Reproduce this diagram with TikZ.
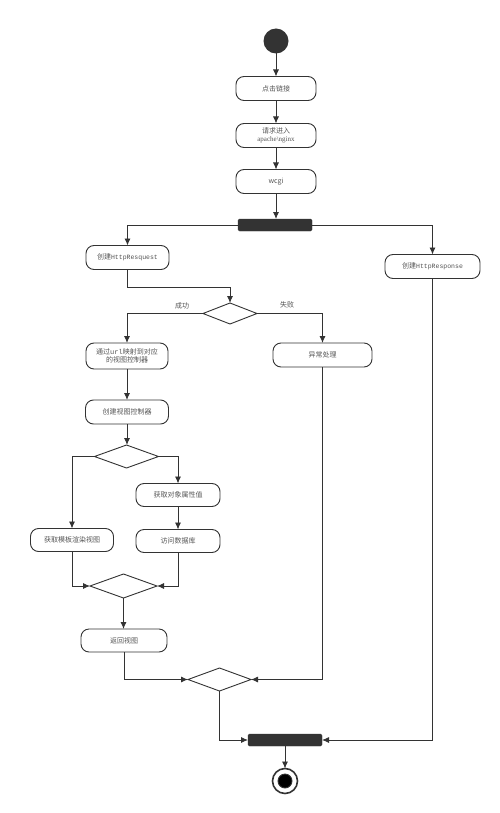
\documentclass[tikz,border=0pt]{standalone}
\usepackage{fontspec}
\newfontfamily\cjk{Noto Sans CJK SC}
\newfontfamily\mono{Liberation Mono}
\newfontfamily\serifl{Liberation Serif}
\usetikzlibrary{arrows.meta,shapes.geometric}
\definecolor{ln}{HTML}{333333}
\definecolor{tx}{HTML}{555555}
\begin{document}
\begin{tikzpicture}[x=1pt,y=-1pt,
  every node/.style={inner sep=0pt, outer sep=0pt},
  act/.style={draw=ln, line width=0.9pt, fill=white, rounded corners=8pt, minimum height=24pt,
    text=tx, align=center, font=\cjk\fontsize{7}{9}\selectfont},
  bar/.style={fill=ln, draw=ln, rounded corners=1.5pt, minimum width=74pt, minimum height=12pt},
  dec/.style={diamond, draw=ln, line width=0.9pt, fill=white},
  lbl/.style={text=tx, font=\cjk\fontsize{7}{9}\selectfont},
  arr/.style={draw=ln, line width=0.9pt, -{Latex[length=7pt,width=6pt]}},
  ln/.style={draw=ln, line width=0.9pt}]
\useasboundingbox (0,0) rectangle (500,813);
\fill[white] (0,0) rectangle (500,813);

\node[circle, fill=ln, minimum size=25pt] (start) at (276,41) {};
\node[act, minimum width=80pt] (n1) at (276,88.5) {点击链接};
\node[act, minimum width=80pt] (n2) at (276,135.5) {请求进入\\[-1pt]{\serifl apache\textbackslash nginx}};
\node[act, minimum width=80pt] (n3) at (276,181.5) {wcgi};
\node[bar] (fork) at (275,225) {};
\node[act, minimum width=83pt] (req) at (127.5,257.5) {创建{\mono\fontsize{6.5}{8}\selectfont HttpResquest}};
\node[act, minimum width=95pt] (resp) at (432.5,266.5) {创建{\mono\fontsize{6.5}{8}\selectfont HttpResponse}};
\coordinate (k1) at (230,287);
\node[dec, minimum width=54pt, minimum height=21pt] (d1) at (230,313.5) {};
\node[act, minimum width=82pt, minimum height=26pt] (url) at (127,356) {通过{\mono url}映射到对应\\[-1pt]的视图控制器};
\node[act, minimum width=99pt] (err) at (322.5,355) {异常处理};
\node[act, minimum width=83pt] (ctrl) at (127,412) {创建视图控制器};
\node[dec, minimum width=64pt, minimum height=23pt] (d2) at (126.5,456.5) {};
\node[act, minimum width=83pt, minimum height=23pt] (tmpl) at (72,540) {获取模板渲染视图};
\node[act, minimum width=84pt, minimum height=23pt] (attr) at (178,495) {获取对象属性值};
\node[act, minimum width=84pt, minimum height=23pt] (db) at (178,541) {访问数据库};
\node[dec, minimum width=67pt, minimum height=24pt] (d3) at (123.5,586) {};
\node[act, minimum width=86pt, minimum height=23pt] (ret) at (124,640.5) {返回视图};
\node[dec, minimum width=63pt, minimum height=23pt] (d4) at (219.5,679.5) {};
\node[bar] (join) at (285,740) {};
\node[circle, draw=ln, line width=1.6pt, fill=white, minimum size=25pt] (end) at (285,781) {};
\fill[ln] (end.center) circle (7pt);

\draw[arr] (start) -- (n1);
\draw[arr] (n1) -- (n2);
\draw[arr] (n2) -- (n3);
\draw[arr] (n3.south) -- (n3.south |- fork.north);
\draw[arr] (fork.west) -| (req.north);
\draw[arr] (fork.east) -| (resp.north);
\draw[arr] (req.south) |- (k1) -- (d1.north);
\draw[arr] (d1.west) -| (url.north);
\draw[arr] (d1.east) -| (err.north);
\node[lbl] (ok) at (182,306) {成功};
\node[lbl] (fail) at (287,305) {失败};
\draw[arr] (url) -- (ctrl);
\draw[arr] (ctrl.south) -- (ctrl.south |- d2.north);
\draw[arr] (d2.west) -| (tmpl.north);
\draw[arr] (d2.east) -| (attr.north);
\draw[arr] (attr) -- (db);
\draw[arr] (tmpl.south) |- (d3.west);
\draw[arr] (db.south) |- (d3.east);
\draw[arr] (d3.south) -- (d3.south |- ret.north);
\draw[arr] (ret.south) |- (d4.west);
\draw[arr] (err.south) |- (d4.east);
\draw[arr] (d4.south) |- (join.west);
\draw[arr] (resp.south) |- (join.east);
\draw[arr] (join) -- (end);
\end{tikzpicture}
\end{document}
